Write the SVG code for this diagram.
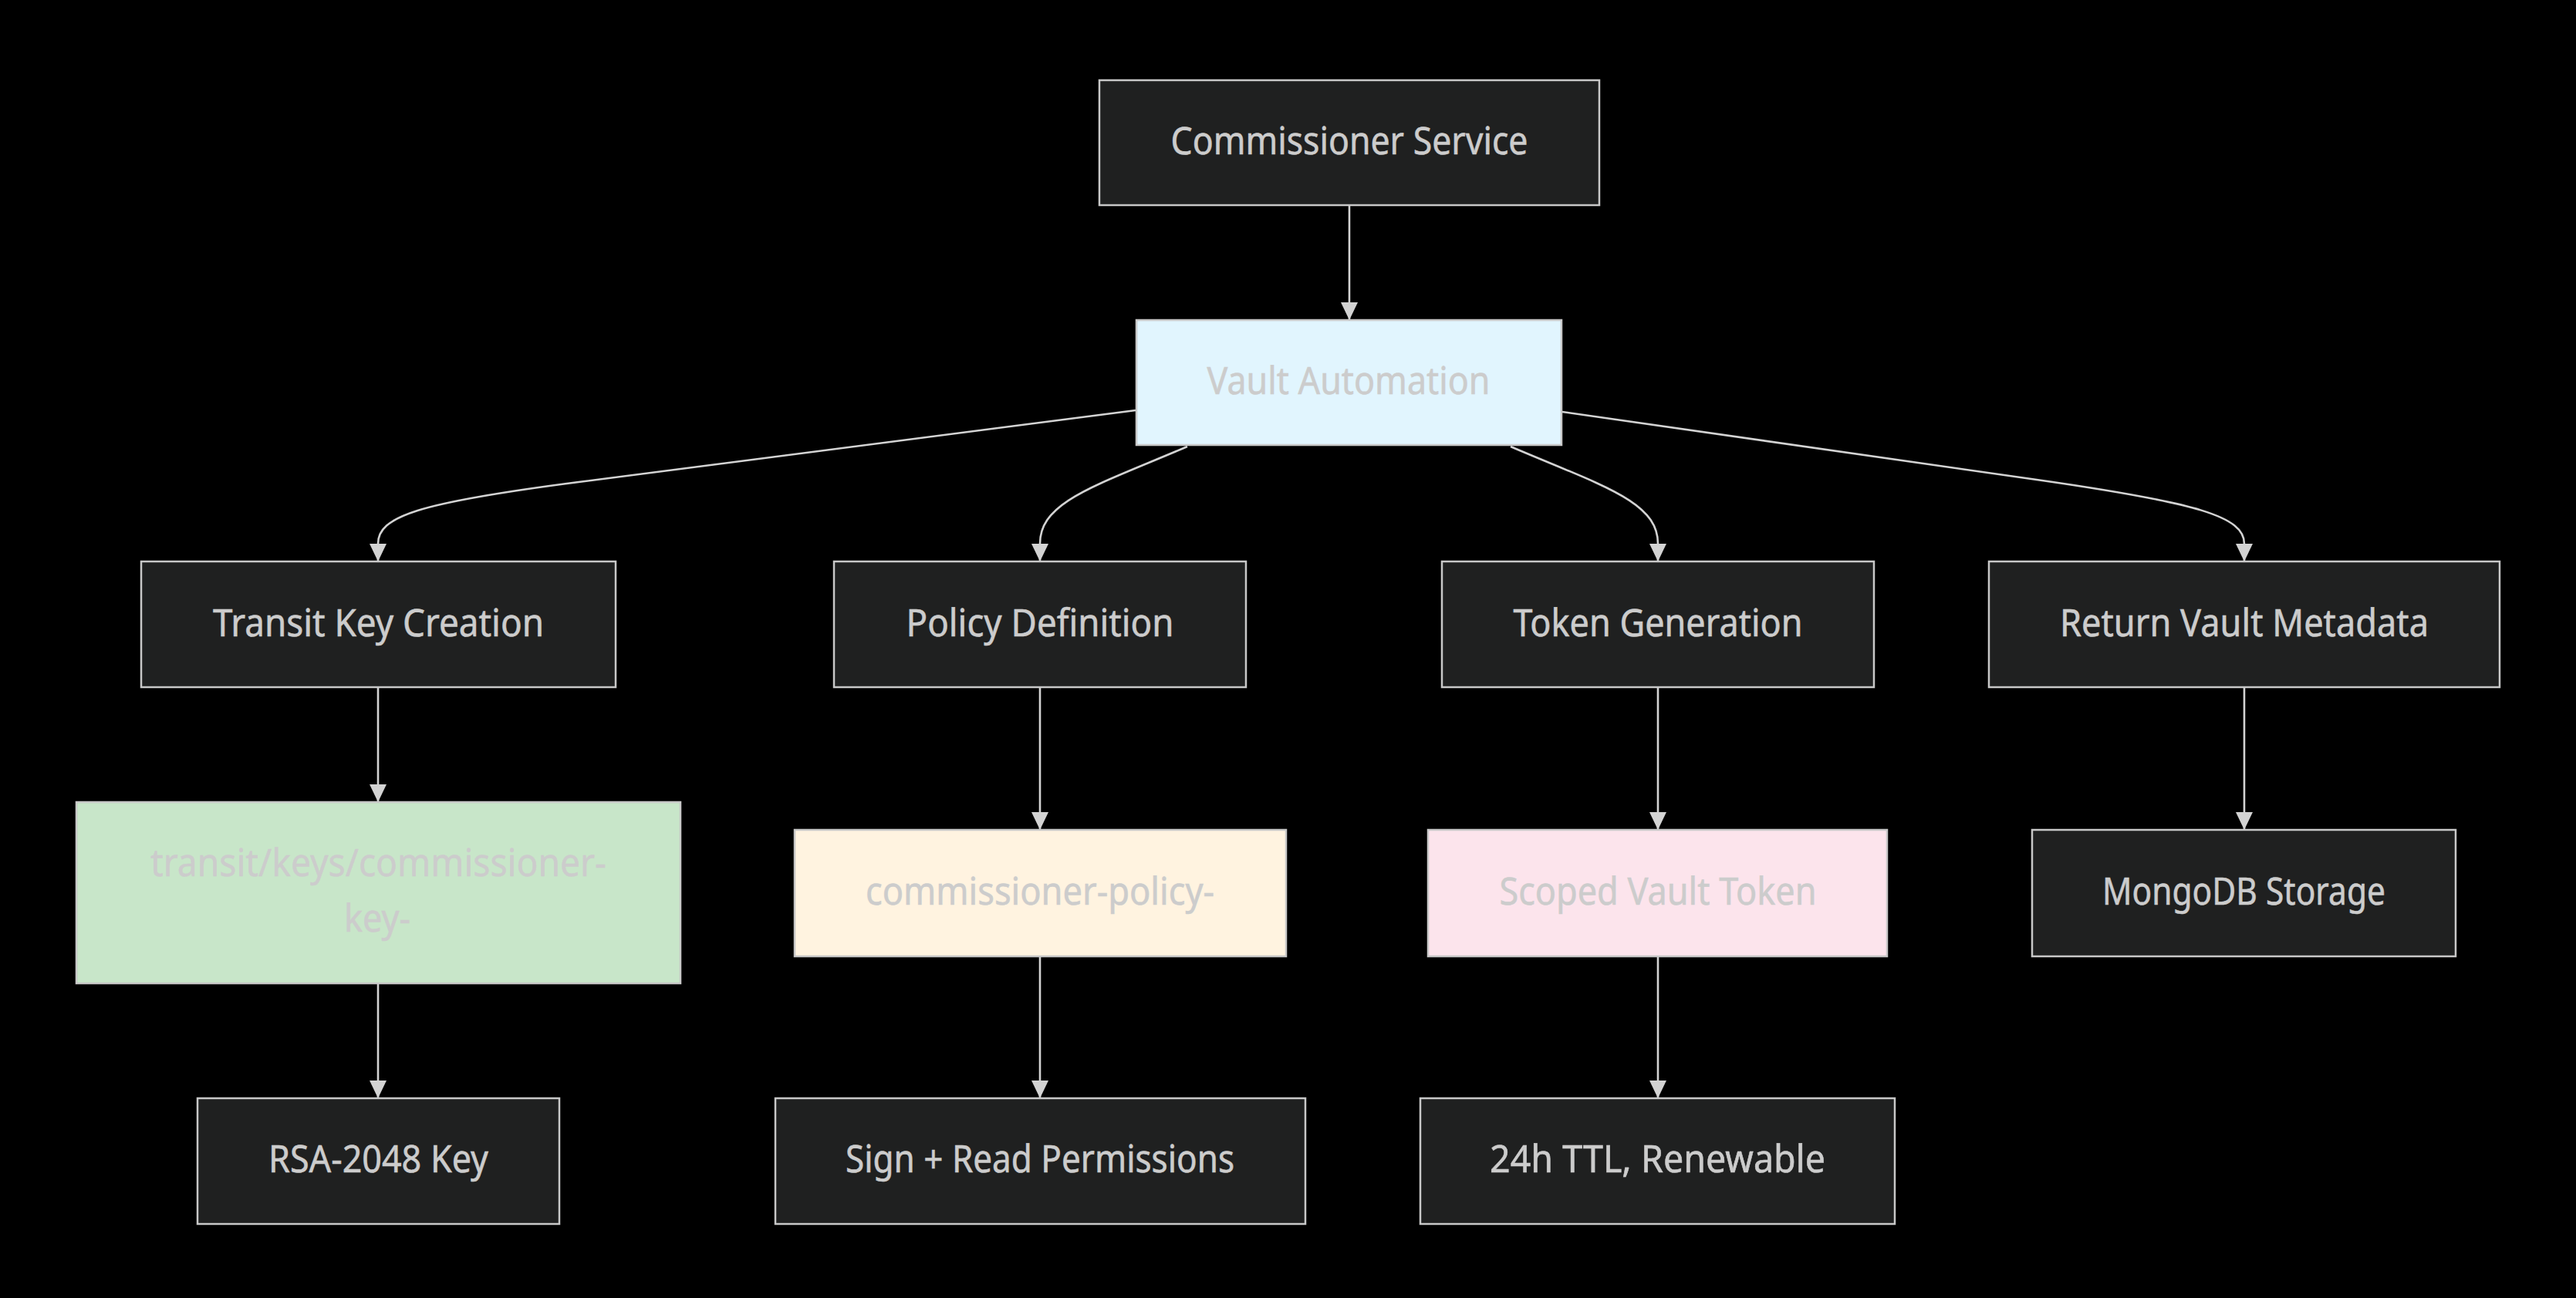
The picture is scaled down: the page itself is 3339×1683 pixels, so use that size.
<svg xmlns="http://www.w3.org/2000/svg" width="3339" height="1683" viewBox="0 0 3339 1683">
<style>
.bg{fill:#000000}
.node rect{stroke:#c8c8c8;stroke-width:2.5}
.dark rect{fill:#1f2020}
.lbl{font-family:"Noto Sans","Liberation Sans","DejaVu Sans",sans-serif;font-size:50px;fill:#cccccc;stroke:#cccccc;stroke-width:0.6;text-anchor:middle}
.edge{fill:none;stroke:#d3d3d3;stroke-width:2.6}
</style>
<defs>
<marker id="arr" markerUnits="userSpaceOnUse" markerWidth="23" markerHeight="22" refX="23" refY="11" orient="auto" viewBox="0 0 23 22">
<path d="M0,0 L23,11 L0,22 z" fill="#d3d3d3"/>
</marker>
</defs>
<rect class="bg" x="0" y="0" width="3339" height="1683"/>
<g id="connectors">
<path class="edge" marker-end="url(#arr)" d="M1749,266 L1749,415"/>
<path class="edge" marker-end="url(#arr)" d="M1472,532 L750,625 C540,652 490,670 490,705 L490,728"/>
<path class="edge" marker-end="url(#arr)" d="M1539,579 C1420,630 1348,650 1348,705 L1348,728"/>
<path class="edge" marker-end="url(#arr)" d="M1958,579 C2077,630 2149,650 2149,705 L2149,728"/>
<path class="edge" marker-end="url(#arr)" d="M2025,534 L2640,622 C2850,652 2909,670 2909,705 L2909,728"/>
<path class="edge" marker-end="url(#arr)" d="M490,891 L490,1040"/>
<path class="edge" marker-end="url(#arr)" d="M490,1275 L490,1424"/>
<path class="edge" marker-end="url(#arr)" d="M1348,891 L1348,1076"/>
<path class="edge" marker-end="url(#arr)" d="M1348,1240 L1348,1424"/>
<path class="edge" marker-end="url(#arr)" d="M2149,891 L2149,1076"/>
<path class="edge" marker-end="url(#arr)" d="M2149,1240 L2149,1424"/>
<path class="edge" marker-end="url(#arr)" d="M2909,891 L2909,1076"/>
</g>
<g id="commissioner" class="node dark">
<rect x="1425" y="104" width="648" height="162"/>
<text class="lbl" x="1749" y="200" textLength="463" lengthAdjust="spacingAndGlyphs">Commissioner Service</text>
</g>
<g id="vault" class="node">
<rect x="1473" y="415" width="551" height="162" fill="#e1f5fe"/>
<text class="lbl" x="1748" y="511" textLength="367" lengthAdjust="spacingAndGlyphs">Vault Automation</text>
</g>
<g id="transit" class="node dark">
<rect x="183" y="728" width="615" height="163"/>
<text class="lbl" x="490.5" y="825" textLength="429" lengthAdjust="spacingAndGlyphs">Transit Key Creation</text>
</g>
<g id="policy" class="node dark">
<rect x="1081" y="728" width="534" height="163"/>
<text class="lbl" x="1348" y="825" textLength="347" lengthAdjust="spacingAndGlyphs">Policy Definition</text>
</g>
<g id="token" class="node dark">
<rect x="1869" y="728" width="560" height="163"/>
<text class="lbl" x="2149" y="825" textLength="375" lengthAdjust="spacingAndGlyphs">Token Generation</text>
</g>
<g id="metadata" class="node dark">
<rect x="2578" y="728" width="662" height="163"/>
<text class="lbl" x="2909" y="825" textLength="478" lengthAdjust="spacingAndGlyphs">Return Vault Metadata</text>
</g>
<g id="transitkey" class="node">
<rect x="99" y="1040" width="783" height="235" fill="#c8e6c9"/>
<text class="lbl" x="490.5" y="1136" textLength="591" lengthAdjust="spacingAndGlyphs">transit/keys/commissioner-</text>
<text class="lbl" x="489" y="1208" textLength="86" lengthAdjust="spacingAndGlyphs">key-</text>
</g>
<g id="policyname" class="node">
<rect x="1030" y="1076" width="637" height="164" fill="#fff3e0"/>
<text class="lbl" x="1348" y="1173" textLength="452" lengthAdjust="spacingAndGlyphs">commissioner-policy-</text>
</g>
<g id="scoped" class="node">
<rect x="1851" y="1076" width="595" height="164" fill="#fce4ec"/>
<text class="lbl" x="2149" y="1173" textLength="411" lengthAdjust="spacingAndGlyphs">Scoped Vault Token</text>
</g>
<g id="mongo" class="node dark">
<rect x="2634" y="1076" width="549" height="164"/>
<text class="lbl" x="2908.5" y="1173" textLength="367" lengthAdjust="spacingAndGlyphs">MongoDB Storage</text>
</g>
<g id="rsa" class="node dark">
<rect x="256" y="1424" width="469" height="163"/>
<text class="lbl" x="490.5" y="1520" textLength="285" lengthAdjust="spacingAndGlyphs">RSA-2048 Key</text>
</g>
<g id="perms" class="node dark">
<rect x="1005" y="1424" width="687" height="163"/>
<text class="lbl" x="1348" y="1520" textLength="504" lengthAdjust="spacingAndGlyphs">Sign + Read Permissions</text>
</g>
<g id="ttl" class="node dark">
<rect x="1841" y="1424" width="615" height="163"/>
<text class="lbl" x="2148.5" y="1520" textLength="435" lengthAdjust="spacingAndGlyphs">24h TTL, Renewable</text>
</g>
</svg>
